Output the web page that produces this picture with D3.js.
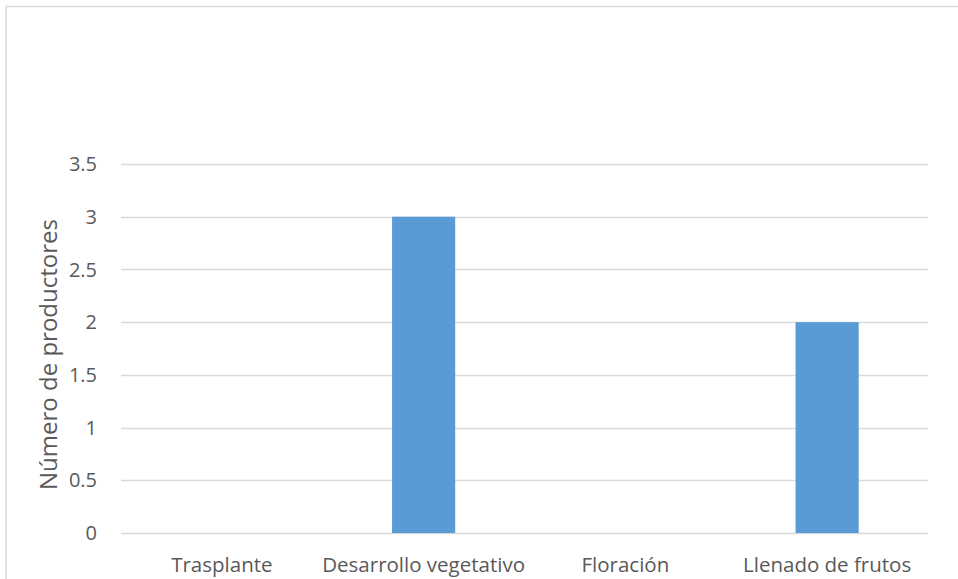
<!DOCTYPE html>
<html><head><meta charset="utf-8">
<script src="https://cdn.jsdelivr.net/npm/d3@7"></script>
<style>body{margin:0;background:#fff;} text{font-family:"Open Sans",sans-serif;fill:#595959;}</style>
</head><body>
<svg id="c" width="958" height="579"></svg>
<script>
const categories = ["Trasplante","Desarrollo vegetativo","Floración","Llenado de frutos"];
const values = [0,3,0,2];
const yTicks = [0,0.5,1,1.5,2,2.5,3,3.5];
const yTickLabels = ["0","0.5","1","1.5","2","2.5","3","3.5"];
const yTitle = "Número de productores";

const svg = d3.select("#c");
svg.append("rect").attr("x",6).attr("y",6.5).attr("width",1000).attr("height",1000)
  .attr("fill","none").attr("stroke","#d9d9d9").attr("stroke-width",1.5);

const m = {left:121, right:928, top:164, bottom:533};
const x = d3.scaleBand().domain(categories).range([m.left,m.right]).padding(0);
const y = d3.scaleLinear().domain([0,3.5]).range([m.bottom,m.top]);

const g = svg.append("g");
g.selectAll("line.grid").data(yTicks).join("line")
  .attr("x1",m.left).attr("x2",m.right)
  .attr("y1",d=>Math.round(y(d))+0.5).attr("y2",d=>Math.round(y(d))+0.5)
  .attr("stroke","#d9d9d9").attr("stroke-width",1.3);

g.selectAll("text.yt").data(yTicks).join("text")
  .attr("x",97).attr("y",d=>y(d)).attr("dy","0.36em").attr("text-anchor","end")
  .attr("font-size",20).text((d,i)=>yTickLabels[i]);

const bw = x.bandwidth()*0.313;
g.selectAll("rect.bar").data(values).join("rect")
  .attr("x",(d,i)=>x(categories[i])+x.bandwidth()/2-bw/2)
  .attr("width",bw)
  .attr("y",d=>y(d)).attr("height",d=>y(0)-y(d))
  .attr("fill","#5b9bd5");

g.selectAll("text.xt").data(categories).join("text")
  .attr("x",d=>x(d)+x.bandwidth()/2).attr("y",572).attr("text-anchor","middle")
  .attr("font-size",20.5).text(d=>d);

svg.append("text").attr("transform",`translate(57,${(m.top+m.bottom)/2+6}) rotate(-90)`)
  .attr("text-anchor","middle").attr("font-size",24).text(yTitle);
</script>
</body></html>
